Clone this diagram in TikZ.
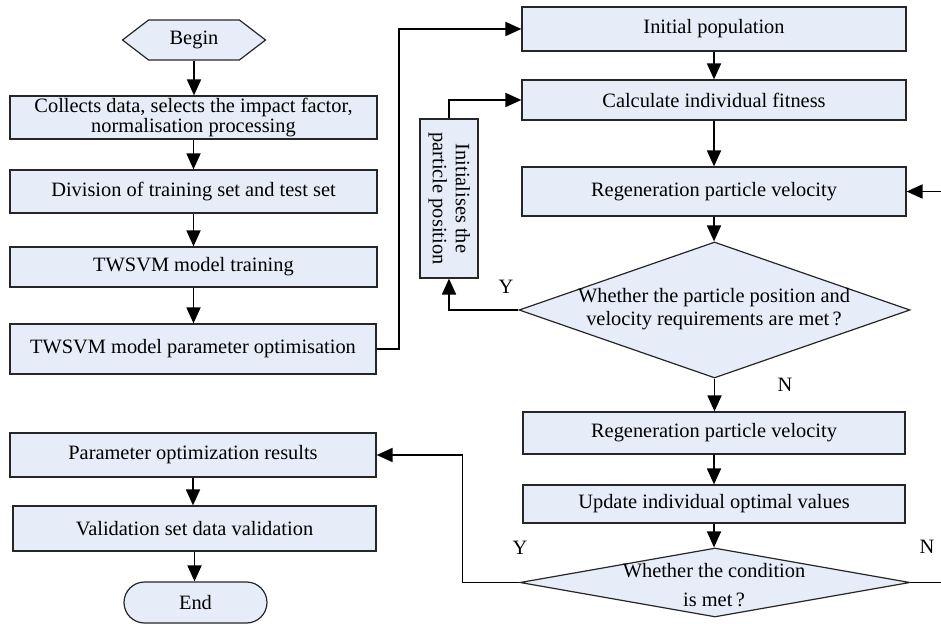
\documentclass[tikz,border=0pt]{standalone}
\usepackage{fontspec}
\setmainfont{Liberation Serif}
\usepackage{tikz}
\usetikzlibrary{shapes,arrows.meta,positioning,calc}
\definecolor{boxfill}{RGB}{230,237,248}

\begin{document}
\begin{tikzpicture}[x=0.5pt, y=-0.5pt,
        font=\fontsize{10.2}{11.5}\selectfont,
        box/.style={draw=black!85, fill=boxfill, line width=0.6pt, inner sep=0pt, align=center},
        decision/.style={diamond, draw=black!85, fill=boxfill, line width=0.6pt, inner sep=0pt},
        arr/.style={line width=0.9pt, -{Triangle[length=8pt, width=7pt]}}]
        \useasboundingbox (0,0) rectangle (941,624);
        \clip (0,0) rectangle (941,624);

        % Left column
        \node[box, signal, signal to=west and east, signal pointer angle=75,
              minimum width=71.5pt, minimum height=20pt] (begin) at (194,40) {Begin};
        \node[box, minimum width=183.5pt, minimum height=21.5pt,
              font=\fontsize{10.2}{9.7}\selectfont] (collect) at (193.5,117.5)
              {Collects data, selects the impact factor,\\ normalisation processing};
        \node[box, minimum width=183.5pt, minimum height=21.5pt] (division) at (193.5,191.5) {Division of training set and test set};
        \node[box, minimum width=183.5pt, minimum height=20pt] (training) at (193.5,267) {TWSVM model training};
        \node[box, minimum width=183pt, minimum height=25pt] (paramopt) at (193,349) {TWSVM model parameter optimisation};
        \node[box, minimum width=183pt, minimum height=22pt] (results) at (193,455) {Parameter optimization results};
        \node[box, minimum width=181.5pt, minimum height=22.5pt] (validation) at (194.5,528.5) {Validation set data validation};
        \node[box, rounded rectangle, minimum width=71.5pt, minimum height=20.5pt] (end) at (195.5,602.5) {End};

        % Right column
        \node[box, minimum width=192pt, minimum height=22pt] (initpop) at (714,29) {Initial population};
        \node[box, minimum width=192pt, minimum height=20pt] (fitness) at (714,100) {Calculate individual fitness};
        \node[box, minimum width=192pt, minimum height=24.5pt] (regen1) at (714,191.5) {Regeneration particle velocity};
        \node[box, minimum width=29pt, minimum height=79.5pt] (initpos) at (449,198.5)
              {\rotatebox{-90}{\begin{tabular}{@{}c@{}}Initialises the\\ particle position\end{tabular}}};
        \node[decision, minimum width=195.5pt, minimum height=68pt] (dia1) at (714.5,310) {};
        \node[align=center, inner sep=0pt] (dia1txt) at (714,309)
              {Whether the particle position and\\ velocity requirements are met\,?};
        \node[box, minimum width=191pt, minimum height=21pt] (regen2) at (714,433) {Regeneration particle velocity};
        \node[box, minimum width=191pt, minimum height=19pt] (update) at (714,504) {Update individual optimal values};
        \node[decision, minimum width=195pt, minimum height=34.5pt] (dia2) at (715,582.5) {};
        \node[align=center, inner sep=0pt] (dia2txt) at (714,585)
              {Whether the condition\\[3pt] is met\,?};

        % Labels
        \node (yes1) at (506,287) {Y};
        \node (no1) at (785,385) {N};
        \node (yes2) at (520,548) {Y};
        \node (no2) at (927,547) {N};

        % Arrows
        \foreach \a/\b in {begin/collect, collect/division, division/training, training/paramopt,
                           results/validation, validation/end, initpop/fitness, fitness/regen1,
                           regen1/dia1, dia1/regen2, regen2/update, update/dia2}
            \draw[arr] (\a.south) -- (\a.south |- \b.north);
        \draw[arr] (paramopt.east) -- ++(22,0) |- (initpop.west);
        \draw[arr] (dia1.west) -| (initpos.south);
        \draw[arr] (initpos.north) |- (fitness.west);
        \draw[arr] (dia2.west) -- ++(-57,0) |- (results.east);
        \draw[arr] (dia2.east) -- ++(40,0) |- (regen1.east);
    \end{tikzpicture}
\end{document}
